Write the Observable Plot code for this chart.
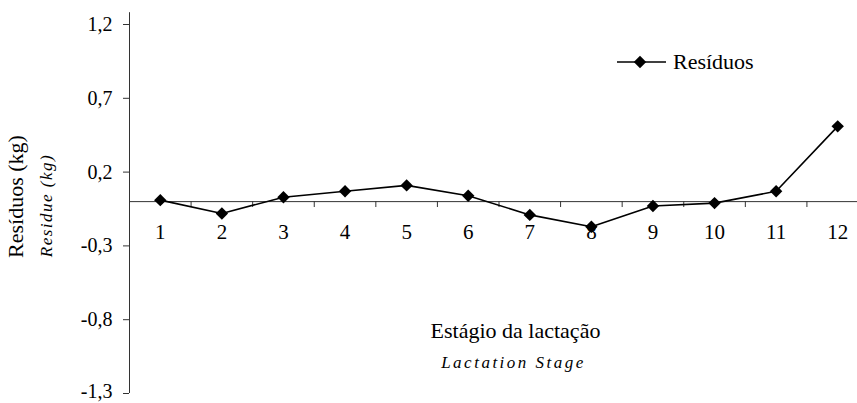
<!DOCTYPE html>
<html><head><meta charset="utf-8">
<script src="https://cdn.jsdelivr.net/npm/d3@7"></script>
<script src="https://cdn.jsdelivr.net/npm/@observablehq/plot@0.6"></script>
<style>
body{margin:0;background:#fff;}
#wrap{position:relative;width:857px;height:403px;font-family:"Liberation Serif",serif;}
#legend{position:absolute;left:617px;top:49px;display:flex;align-items:center;font-size:22px;line-height:25px;color:#000;}
#legend svg{display:block;margin-right:6px;}
</style>
</head><body>
<div id="wrap"><div id="chart"></div><div id="legend"></div></div>
<script>
const stages = [1,2,3,4,5,6,7,8,9,10,11,12];
const residuals = [0.01,-0.08,0.03,0.07,0.11,0.04,-0.09,-0.17,-0.03,-0.01,0.07,0.51];
const stageBounds = [1.5,2.5,3.5,4.5,5.5,6.5,7.5,8.5,9.5,10.5,11.5,12.5];
const yTicks = [1.2,0.7,0.2,-0.3,-0.8,-1.3];
const yTickLabels = ["1,2","0,7","0,2","-0,3","-0,8","-1,3"];
const seriesName = "Resíduos";
const yTitle = "Resíduos (kg)";
const yTitleEn = "Residue (kg)";
const xTitle = "Estágio da lactação";
const xTitleEn = "Lactation Stage";

const rows = stages.map((s,i)=>({stage:s, residual:residuals[i]}));
const font = "Liberation Serif";
const txt = {fontFamily: font, fill: "#000", textAnchor: "middle", lineAnchor: "middle", frameAnchor: "top-left"};

const plot = Plot.plot({
  width: 857, height: 403,
  marginLeft: 129, marginRight: 0, marginTop: 24, marginBottom: 10,
  style: {fontFamily: font, color: "#000", background: "#fff"},
  x: {type: "linear", domain: [0.5, 12.5], range: [129, 868], axis: null},
  y: {domain: [-1.3, 1.2], axis: null},
  marks: [
    Plot.ruleX([0.5], {y1: -1.3, y2: 1.28, stroke: "#333", strokeWidth: 1}),
    Plot.axisY({ticks: yTicks, label: null, tickSize: 6, tickPadding: 11, stroke: "#333",
      tickFormat: d => yTickLabels[yTicks.indexOf(d)], fontSize: 20, fontFamily: font, fill: "#000"}),
    Plot.ruleY([0], {x1: 0.5, x2: 12.5, stroke: "#333", strokeWidth: 1}),
    Plot.ruleX(stageBounds, {y1: 0, y2: -0.04, stroke: "#333", strokeWidth: 1}),
    Plot.text(stages, {x: d => d, y: 0, dy: 31, text: d => String(d), fontSize: 21, fontFamily: font, fill: "#000"}),
    Plot.line(rows, {x: "stage", y: "residual", stroke: "#000", strokeWidth: 1.6}),
    Plot.dot(rows, {x: "stage", y: "residual", symbol: "diamond2", r: 5.6, fill: "#000", stroke: "none"}),
    Plot.text([yTitle], {...txt, dx: 15.5 - 129, dy: 196 - 24, rotate: -90, fontSize: 22}),
    Plot.text([yTitleEn], {...txt, dx: 46 - 129, dy: 205 - 24, rotate: -90, fontSize: 17, fontStyle: "italic"}),
    Plot.text([xTitle], {...txt, dx: 515 - 129, dy: 330 - 24, fontSize: 22}),
    Plot.text([xTitleEn], {...txt, dx: 513 - 129, dy: 362 - 24, fontSize: 17, fontStyle: "italic"})
  ]
});
d3.select(plot).selectAll("text").filter(function(){return this.textContent === xTitleEn;}).attr("letter-spacing", "2.5px");
d3.select(plot).selectAll("text").filter(function(){return this.textContent === yTitleEn;}).attr("letter-spacing", "1.5px");
d3.select(plot).selectAll("text").filter(function(){return this.textContent === "-1,3";})
  .attr("transform", function(){ return (this.getAttribute("transform") || "") + " translate(0,-2)"; });
document.getElementById("chart").appendChild(plot);

// legend
const lg = d3.select("#legend");
const sw = lg.append("svg").attr("width", 50).attr("height", 16);
sw.append("line").attr("x1", 0).attr("x2", 49).attr("y1", 8).attr("y2", 8).attr("stroke", "#000").attr("stroke-width", 1.6);
sw.append("path").attr("transform", "translate(23,8)").attr("d", d3.symbol(d3.symbolDiamond2, 5.6*5.6*Math.PI)()).attr("fill", "#000");
lg.append("span").text(seriesName);
</script>
</body></html>
